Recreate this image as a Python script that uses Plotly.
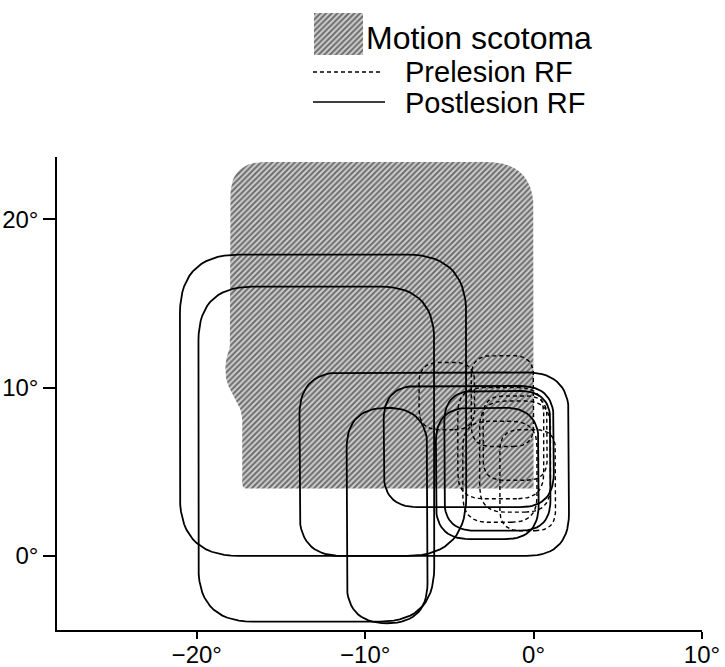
import numpy as np
import plotly.graph_objects as go

# ---------------- data (degrees of visual angle) ----------------
# Motion scotoma outline vertices and corner rounding radii
scot_x = [0.0, 0.0, -18.0, -18.0, -18.3, -18.3, -17.3, -17.3]
scot_y = [4.0, 23.4, 23.4, 12.4, 11.6, 10.4, 8.6, 4.0]
scot_r = [0.0, 2.8, 2.0, 0.5, 0.4, 0.6, 0.6, 0.3]

# Postlesion receptive fields (solid): left, right, bottom, top, corner radius
post_x0 = [-21.0, -19.9, -13.9, -8.9, -11.1, -5.8, -5.3]
post_x1 = [-4.0, -5.9, 2.1, 1.2, -6.3, 0.3, 1.0]
post_y0 = [0.0, -3.9, 0.0, 2.9, -4.0, 1.0, 1.5]
post_y1 = [17.9, 16.0, 10.9, 10.1, 8.8, 8.8, 9.8]
post_r = [3.5, 3.2, 2.5, 2.0, 2.4, 2.0, 1.8]

# Prelesion receptive fields (dashed)
pre_x0 = [-6.8, -3.7, -4.5, -3.2, -4.2, -2.0, -3.0]
pre_x1 = [-3.5, 0.0, 0.6, 1.0, 0.2, 1.3, 0.8]
pre_y0 = [7.5, 6.5, 3.4, 2.6, 2.0, 1.5, 4.5]
pre_y1 = [11.5, 11.9, 10.0, 9.2, 8.0, 7.5, 9.5]
pre_r = [1.2, 1.2, 1.5, 1.5, 1.5, 1.2, 1.2]

# axes
x_ticks = [-20, -10, 0, 10]
x_ticklabels = ["\u221220\u00b0", "\u221210\u00b0", "0\u00b0", "10\u00b0"]
y_ticks = [0, 10, 20]
y_ticklabels = ["0\u00b0", "10\u00b0", "20\u00b0"]
x_range = [-28.3, 10.0]
y_range = [-4.4, 23.7]

legend_labels = ["Motion scotoma", "Prelesion RF", "Postlesion RF"]

# ---------------- geometry helpers ----------------
def rounded_polygon(xs, ys, rs, n=12):
    pts = []
    m = len(xs)
    for i in range(m):
        p = np.array([xs[i], ys[i]])
        pp = np.array([xs[i - 1], ys[i - 1]])
        pn = np.array([xs[(i + 1) % m], ys[(i + 1) % m]])
        r = rs[i]
        if r <= 0:
            pts.append(p)
            continue
        u_in = (p - pp) / np.linalg.norm(p - pp)
        u_out = (pn - p) / np.linalg.norm(pn - p)
        a = p - u_in * r
        b = p + u_out * r
        for t in np.linspace(0, 1, n):
            pts.append((1 - t) ** 2 * a + 2 * (1 - t) * t * p + t ** 2 * b)
    pts.append(pts[0])
    arr = np.array(pts)
    return arr[:, 0], arr[:, 1]


def rounded_rect(x0, x1, y0, y1, r):
    r = min(r, (x1 - x0) / 2, (y1 - y0) / 2)
    xs = [x1, x1, x0, x0]
    ys = [y0, y1, y1, y0]
    return rounded_polygon(xs, ys, [r] * 4, n=16)


W, H = 725, 667
L, R, T, B = 57, 702, 157, 630

fig = go.Figure()

# scotoma
sx, sy = rounded_polygon(scot_x, scot_y, scot_r)
pattern = dict(shape="/", size=4, solidity=0.5, fgcolor="#0a0a0a", bgcolor="#cfcfcf")
fig.add_trace(go.Scatter(x=sx, y=sy, mode="lines", fill="toself",
                         line=dict(color="rgba(0,0,0,0)", width=0),
                         fillpattern=pattern, hoverinfo="skip", showlegend=False))

# prelesion RFs
for i in range(len(pre_x0)):
    xx, yy = rounded_rect(pre_x0[i], pre_x1[i], pre_y0[i], pre_y1[i], pre_r[i])
    fig.add_trace(go.Scatter(x=xx, y=yy, mode="lines",
                             line=dict(color="black", width=1.4, dash="4px,3px"),
                             hoverinfo="skip", showlegend=False))

# postlesion RFs
for i in range(len(post_x0)):
    xx, yy = rounded_rect(post_x0[i], post_x1[i], post_y0[i], post_y1[i], post_r[i])
    fig.add_trace(go.Scatter(x=xx, y=yy, mode="lines",
                             line=dict(color="black", width=1.8),
                             hoverinfo="skip", showlegend=False))

# legend swatch on pixel overlay axes
fig.add_trace(go.Scatter(x=[314, 363, 363, 314, 314], y=[13, 13, 55, 55, 13],
                         xaxis="x2", yaxis="y2", mode="lines", fill="toself",
                         line=dict(color="rgba(0,0,0,0)", width=0),
                         fillpattern=pattern, hoverinfo="skip", showlegend=False))

font = "Liberation Sans, Arial, Helvetica, sans-serif"

def px(x):
    return x / W

def py(y):
    return 1 - y / H

shapes = [
    dict(type="line", xref="paper", yref="paper", x0=px(313), x1=px(383), y0=py(72), y1=py(72),
         line=dict(color="black", width=1.3, dash="4px,3px")),
    dict(type="line", xref="paper", yref="paper", x0=px(313), x1=px(385), y0=py(102), y1=py(102),
         line=dict(color="black", width=1.5)),
]
annotations = [
    dict(x=px(365), y=py(38), text=legend_labels[0], font_size=32),
    dict(x=px(404), y=py(72), text=legend_labels[1], font_size=29),
    dict(x=px(404), y=py(103), text=legend_labels[2], font_size=29),
]
for a in annotations:
    fs = a.pop("font_size")
    a.update(xref="paper", yref="paper", xanchor="left", yanchor="middle", showarrow=False,
             borderpad=0, font=dict(family=font, size=fs, color="black"))

fig.update_layout(
    width=W, height=H,
    margin=dict(l=0, r=0, t=0, b=0),
    paper_bgcolor="white", plot_bgcolor="rgba(0,0,0,0)",
    showlegend=False,
    shapes=shapes, annotations=annotations,
    xaxis=dict(domain=[L / W, R / W], range=x_range, showgrid=False, zeroline=False,
               showline=True, linecolor="black", linewidth=1.5,
               ticks="outside", ticklen=7, tickwidth=1.5, tickcolor="black",
               tickvals=x_ticks, ticktext=x_ticklabels, automargin=False,
               ticklabelstandoff=-5,
               tickfont=dict(family=font, size=24, color="black")),
    yaxis=dict(domain=[1 - B / H, 1 - T / H], range=y_range, showgrid=False, zeroline=False,
               showline=True, linecolor="black", linewidth=1.5,
               ticks="outside", ticklen=12, tickwidth=1.5, tickcolor="black",
               tickvals=y_ticks, ticktext=y_ticklabels, automargin=False,
               tickfont=dict(family=font, size=24, color="black")),
    xaxis2=dict(domain=[0, 1], range=[0, W], visible=False, anchor="y2", fixedrange=True),
    yaxis2=dict(domain=[0, 1], range=[H, 0], visible=False, anchor="x2", fixedrange=True),
)

fig.write_html("out.html", config={"displayModeBar": False},
               post_script="document.body.style.margin='0';")
